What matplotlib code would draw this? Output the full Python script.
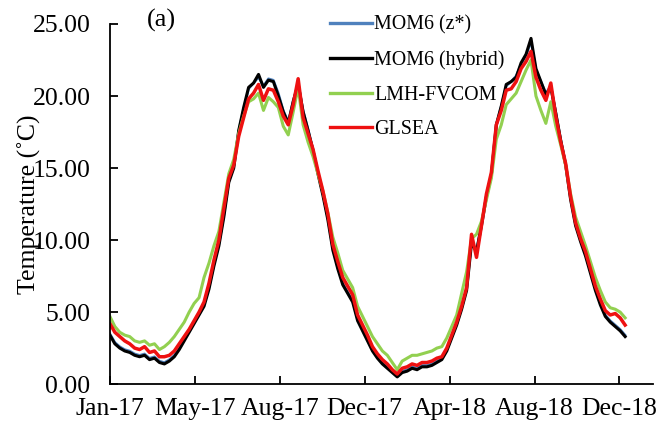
import matplotlib.pyplot as plt
import numpy as np

# days since 1 Jan 2017, weekly samples
days = np.arange(0, 735, 7)

glsea = [4.2, 3.6, 3.3, 3.0, 2.8, 2.5, 2.4, 2.6, 2.2, 2.3, 1.9, 1.9, 2.0, 2.3, 2.8,
         3.3, 3.8, 4.4, 5.0, 5.7, 7.0, 8.6, 10.0, 12.2, 14.3, 15.2, 17.2, 18.5, 19.8, 20.2,
         20.8, 19.7, 20.5, 20.4, 19.6, 18.6, 18.0, 19.4, 21.2, 18.5, 17.4, 16.3, 14.8, 13.4, 11.8,
         9.7, 8.5, 7.4, 6.8, 6.2, 4.8, 4.1, 3.4, 2.6, 2.1, 1.7, 1.4, 1.0, 0.7, 1.1,
         1.2, 1.4, 1.3, 1.5, 1.5, 1.6, 1.8, 1.9, 2.5, 3.4, 4.3, 5.4, 6.7, 10.4, 8.8,
         11.0, 13.2, 14.7, 18.0, 19.0, 20.4, 20.5, 21.0, 21.9, 22.4, 23.1, 21.3, 20.4, 19.7, 20.9,
         18.6, 16.8, 15.3, 13.0, 11.2, 10.1, 9.2, 8.0, 6.8, 5.9, 5.1, 4.8, 4.9, 4.6, 4.1]

fvcom = [4.7, 4.0, 3.6, 3.4, 3.3, 3.0, 2.9, 3.0, 2.7, 2.8, 2.4, 2.6, 2.9, 3.3, 3.8,
         4.3, 5.0, 5.6, 6.0, 7.4, 8.4, 9.6, 10.6, 12.6, 14.6, 15.6, 17.4, 18.6, 19.6, 19.8,
         20.2, 19.0, 19.9, 19.6, 19.2, 17.9, 17.3, 18.9, 20.6, 18.0, 16.8, 15.8, 14.6, 13.4, 11.9,
         10.2, 9.1, 7.9, 7.3, 6.7, 5.4, 4.7, 4.0, 3.3, 2.8, 2.3, 2.0, 1.5, 1.0, 1.6,
         1.8, 2.0, 2.0, 2.1, 2.2, 2.3, 2.5, 2.6, 3.2, 4.0, 4.8, 6.3, 7.8, 10.1, 10.4,
         11.3, 12.8, 14.3, 17.0, 18.0, 19.4, 19.8, 20.2, 21.0, 21.8, 22.5, 20.0, 19.0, 18.1, 19.6,
         17.9, 16.6, 15.2, 13.2, 11.6, 10.6, 9.6, 8.5, 7.4, 6.5, 5.7, 5.3, 5.2, 5.0, 4.6]

mom6_hyb = [3.4, 2.8, 2.5, 2.3, 2.2, 2.0, 1.9, 2.0, 1.7, 1.8, 1.5, 1.4, 1.6, 1.9, 2.4,
            3.0, 3.6, 4.2, 4.8, 5.4, 6.6, 8.2, 9.6, 11.6, 14.0, 15.0, 17.6, 19.2, 20.6, 20.9,
            21.5, 20.6, 21.1, 21.0, 20.0, 18.9, 18.1, 19.6, 20.8, 18.9, 17.6, 16.2, 14.6, 13.1, 11.4,
            9.3, 8.0, 6.9, 6.3, 5.7, 4.4, 3.7, 3.0, 2.3, 1.8, 1.4, 1.1, 0.8, 0.5, 0.8,
            0.9, 1.1, 1.0, 1.2, 1.2, 1.3, 1.5, 1.7, 2.3, 3.2, 4.1, 5.2, 6.5, 9.8, 9.2,
            11.0, 13.0, 14.5, 18.0, 19.3, 20.8, 21.0, 21.3, 22.3, 22.9, 24.0, 21.9, 21.0, 20.1, 20.6,
            18.8, 16.9, 15.2, 12.8, 11.0, 9.9, 8.9, 7.7, 6.5, 5.5, 4.7, 4.3, 4.0, 3.7, 3.3]

mom6_z = [3.5, 2.9, 2.6, 2.4, 2.3, 2.1, 2.0, 2.1, 1.8, 1.9, 1.6, 1.5, 1.7, 2.0, 2.5,
          3.1, 3.7, 4.3, 4.9, 5.5, 6.7, 8.3, 9.7, 11.7, 14.1, 15.1, 17.6, 19.1, 20.5, 20.9,
          21.3, 20.7, 21.2, 21.1, 20.2, 19.0, 18.2, 19.7, 20.9, 19.0, 17.7, 16.3, 14.7, 13.2, 11.5,
          9.4, 8.1, 7.0, 6.4, 5.8, 4.5, 3.8, 3.1, 2.4, 1.9, 1.5, 1.2, 0.9, 0.6, 0.9,
          1.0, 1.2, 1.1, 1.3, 1.3, 1.4, 1.6, 1.8, 2.4, 3.3, 4.2, 5.3, 6.6, 9.9, 9.3,
          11.1, 13.1, 14.6, 18.0, 19.3, 20.7, 21.0, 21.4, 22.2, 22.8, 23.8, 21.8, 21.0, 20.2, 20.7,
          18.9, 17.0, 15.3, 12.9, 11.1, 10.0, 9.0, 7.8, 6.6, 5.6, 4.8, 4.4, 4.1, 3.8, 3.4]

tick_days = [0, 120, 240, 360, 480, 600, 720]
tick_labels = ['Jan-17', 'May-17', 'Aug-17', 'Dec-17', 'Apr-18', 'Aug-18', 'Dec-18']

plt.rcParams['font.family'] = ['Liberation Serif', 'DejaVu Serif']

fig = plt.figure(figsize=(6.62, 4.36), dpi=100)
ax = fig.add_axes([0.166, 0.119, 0.820, 0.826])

ax.plot(days, mom6_z, color='#4f81bd', lw=1.8, label='MOM6 (z*)')
ax.plot(days, mom6_hyb, color='black', lw=2.2, label='MOM6 (hybrid)')
ax.plot(days, fvcom, color='#92d050', lw=2.2, label='LMH-FVCOM')
ax.plot(days, glsea, color='#ee1111', lw=2.5, label='GLSEA')

ax.set_xlim(0, 767)
ax.set_ylim(0, 25)
ax.set_yticks([0, 5, 10, 15, 20, 25])
ax.set_yticklabels(['%.2f' % v for v in [0, 5, 10, 15, 20, 25]])
ax.set_xticks(tick_days)
ax.set_xticklabels(tick_labels)

for s in ['top', 'right']:
    ax.spines[s].set_visible(False)
for s in ['left', 'bottom']:
    ax.spines[s].set_linewidth(1.3)

ax.tick_params(axis='both', direction='in', length=6, width=1.3, labelsize=18.5)
ax.tick_params(axis='y', pad=14)
ax.tick_params(axis='x', pad=10)

ax.set_ylabel('Temperature (˚C)', fontsize=18.5, labelpad=-6)
ax.text(0.068, 1.01, '(a)', transform=ax.transAxes, fontsize=19, va='center')

leg = ax.legend(loc='upper left', bbox_to_anchor=(0.405, 1.024), frameon=False,
                fontsize=14.4, handlelength=2.1, handletextpad=0.12, labelspacing=0.78,
                borderpad=0, borderaxespad=0)
for line in leg.get_lines():
    line.set_linewidth(2.4)

fig.savefig('out.png', dpi=100)
